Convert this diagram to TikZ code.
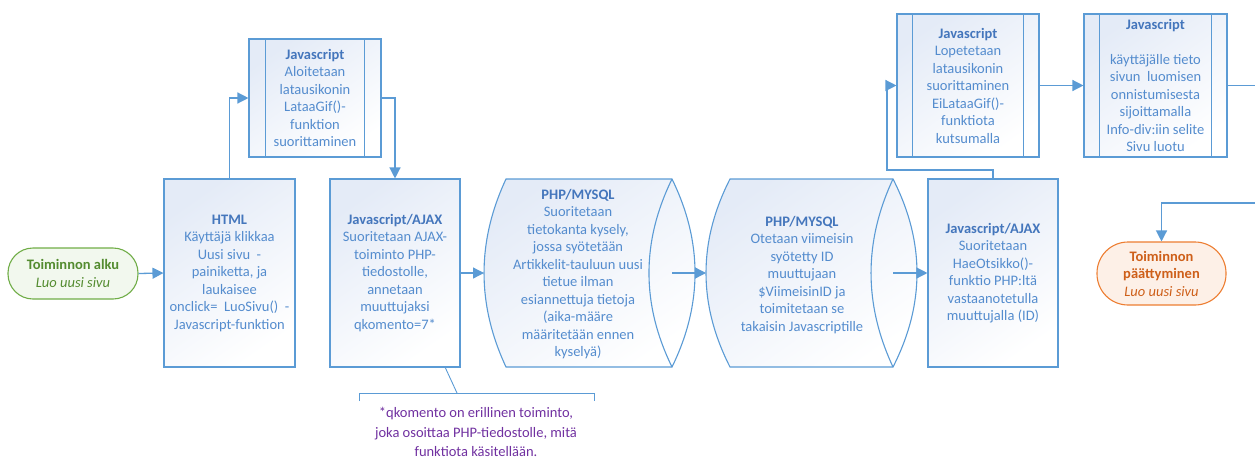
\documentclass[tikz,border=0pt]{standalone}
\usepackage{fontspec}
\setmainfont{Carlito}
\usetikzlibrary{arrows.meta}

\definecolor{edgeblue}{RGB}{91,155,213}
\definecolor{txtblue}{RGB}{84,140,206}
\definecolor{hdblue}{RGB}{68,118,188}
\definecolor{fillblue}{RGB}{228,235,247}
\definecolor{startedge}{RGB}{112,173,71}
\definecolor{starttxt}{RGB}{84,140,48}
\definecolor{startfill}{RGB}{242,248,238}
\definecolor{endedge}{RGB}{237,125,49}
\definecolor{endtxt}{RGB}{206,95,25}
\definecolor{endfill}{RGB}{253,240,231}
\definecolor{notepurple}{RGB}{112,48,160}

\newcommand\boxhead[1]{{\bfseries\color{hdblue}#1}}

\begin{document}
\begin{tikzpicture}[x=1pt,y=-1pt,
  flow/.style={draw=edgeblue, line width=1.3pt, -{Triangle[length=11pt,width=11pt]}},
  link/.style={draw=edgeblue, line width=1.3pt},
  basefont/.style={font=\fontsize{14.5}{17.5}\selectfont},
  procbox/.style={draw=edgeblue, line width=1.1pt, top color=fillblue, bottom color=white,
    shading angle=35, inner sep=0pt, align=center, text=txtblue, basefont},
  txtonly/.style={inner sep=0pt, align=center, text=txtblue, basefont},
  storeshape/.style={draw=edgeblue, line width=1.1pt, top color=fillblue, bottom color=white, shading angle=35},
  innerline/.style={draw=edgeblue, line width=1.1pt},
  terminal/.style={line width=1.1pt, inner sep=0pt, align=center, basefont},
]
\useasboundingbox (0,0) rectangle (1255,458);

% start / end terminals
\node[terminal, draw=startedge, fill=startfill, rounded corners=25pt,
  minimum width=130pt, minimum height=51pt, text=starttxt] (start) at (73,273.5)
  {\textbf{Toiminnon alku}\\\textit{Luo uusi sivu}};
\node[terminal, draw=endedge, fill=endfill, rounded corners=31pt,
  minimum width=129pt, minimum height=63pt, text=endtxt] (finish) at (1161.5,273.5)
  {\textbf{Toiminnon}\\\textbf{päättyminen}\\\textit{Luo uusi sivu}};

% process boxes
\node[procbox, minimum width=131pt, minimum height=188pt] (html) at (229.5,273)
  {\boxhead{HTML}\\Käyttäjä klikkaa\\Uusi sivu~~-\\painiketta, ja\\laukaisee\\onclick=~~LuoSivu()~~-\\Javascript-funktion};
\node[procbox, minimum width=130pt, minimum height=188pt] (ajax) at (395,273)
  {\boxhead{Javascript/AJAX}\\Suoritetaan AJAX-\\toiminto PHP-\\tiedostolle,\\annetaan\\muuttujaksi\\qkomento=7*};
\node[procbox, minimum width=130pt, minimum height=188pt] (ajaxb) at (993,273)
  {\boxhead{Javascript/AJAX}\\Suoritetaan\\HaeOtsikko()-\\funktio PHP:ltä\\vastaanotetulla\\muuttujalla (ID)};

% predefined process boxes
\node[procbox, minimum width=132pt, minimum height=118pt] (load) at (315,98)
  {\boxhead{Javascript}\\Aloitetaan\\latausikonin\\LataaGif()-\\funktion\\suorittaminen};
\draw[innerline] ([xshift=17pt]load.north west) -- ([xshift=17pt]load.south west);
\draw[innerline] ([xshift=-17pt]load.north east) -- ([xshift=-17pt]load.south east);

\node[procbox, minimum width=142pt, minimum height=143pt] (unload) at (968,85.5)
  {\boxhead{Javascript}\\Lopetetaan\\latausikonin\\suorittaminen\\EiLataaGif()-\\funktiota\\kutsumalla};
\draw[innerline] ([xshift=16pt]unload.north west) -- ([xshift=16pt]unload.south west);
\draw[innerline] ([xshift=-16pt]unload.north east) -- ([xshift=-16pt]unload.south east);

\node[procbox, minimum width=143pt, minimum height=143pt] (info) at (1155.5,85.5)
  {\boxhead{Javascript}\\[17.5pt]käyttäjälle tieto\\sivun~~luomisen\\onnistumisesta\\sijoittamalla\\Info-div:iin selite\\Sivu luotu};
\draw[innerline] ([xshift=16pt]info.north west) -- ([xshift=16pt]info.south west);
\draw[innerline] ([xshift=-16pt]info.north east) -- ([xshift=-16pt]info.south east);

% direct access storage shapes
\path[storeshape] (506,179) -- (672,179)
  .. controls (702.7,241.7) and (702.7,304.3) .. (672,367) -- (506,367)
  .. controls (476.7,304.3) and (476.7,241.7) .. cycle;
\draw[innerline] (672,179) .. controls (641.3,241.7) and (641.3,304.3) .. (672,367);
\node[txtonly] (phpa) at (578,274)
  {\boxhead{PHP/MYSQL}\\Suoritetaan\\tietokanta kysely,\\jossa syötetään\\Artikkelit-tauluun uusi\\tietue ilman\\esiannettuja tietoja\\(aika-määre\\määritetään ennen\\kyselyä)};
\coordinate (phpain) at (484,273);
\coordinate (phpaout) at (672,273);

\path[storeshape] (730,179) -- (893,179)
  .. controls (925,241.7) and (925,304.3) .. (893,367) -- (730,367)
  .. controls (698,304.3) and (698,241.7) .. cycle;
\draw[innerline] (893,179) .. controls (863.7,241.7) and (863.7,304.3) .. (893,367);
\node[txtonly] (phpb) at (802,275)
  {\boxhead{PHP/MYSQL}\\Otetaan viimeisin\\syötetty ID\\muuttujaan\\\$ViimeisinID ja\\toimitetaan se\\takaisin Javascriptille};
\coordinate (phpbin) at (706,273);
\coordinate (phpbout) at (893,273);

% connectors
\draw[flow] (start.east) -- (html.west);
\draw[flow] (html.north) |- (load.west);
\draw[flow] (load.east) -| (ajax.north);
\draw[flow] (ajax.east) -- (phpain);
\draw[flow] (phpaout) -- (phpbin);
\draw[flow] (phpbout) -- (ajaxb.west);
\coordinate (bend) at (887,170);
\draw[flow] (ajaxb.north) |- (bend) |- (unload.west);
\draw[flow] (unload.east) -- (info.west);
\coordinate (outright) at (1256,85.5);
\coordinate (inright) at (1256,203);
\draw[link] (info.east) -- (outright);
\draw[flow] (inright) -| (finish.north);

% annotation
\coordinate (notetip) at (445,367);
\coordinate (notejoin) at (457,393);
\draw[draw=edgeblue, line width=0.9pt] (notetip) -- (notejoin);
\draw[draw=edgeblue, line width=0.9pt] (359,401) -- (359,393) -- (594,393) -- (594,401);
\node[inner sep=0pt, align=center, text=notepurple, font=\fontsize{14.5}{19.5}\selectfont] (note) at (476,432)
  {*qkomento on erillinen toiminto,\\joka osoittaa PHP-tiedostolle, mitä\\funktiota käsitellään.};
\end{tikzpicture}
\end{document}
